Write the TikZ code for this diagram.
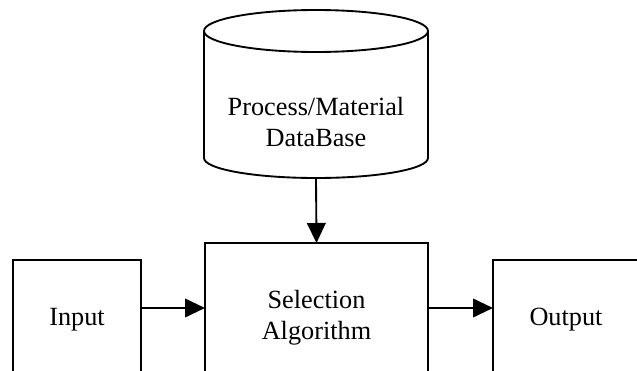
\documentclass[tikz,border=0pt]{standalone}
\usepackage{fontspec}
\setmainfont{Liberation Serif}
\usetikzlibrary{arrows.meta}
\begin{document}
\begin{tikzpicture}[x=0.75pt,y=-0.75pt,
  every node/.style={font=\fontsize{19.7pt}{23.5pt}\selectfont, align=center, inner sep=0pt, outer sep=0pt},
  box/.style={draw, line width=1.4pt, rectangle},
  conn/.style={line width=1.4pt, -{Triangle[length=15pt,width=14pt]}},
  shp/.style={line width=1.4pt}]
\useasboundingbox (0,0) rectangle (637,371);
\clip (0,0) rectangle (637,371);
% cylinder
\draw[shp] (204,31) -- (204,158) arc[start angle=180,end angle=0,x radius=112,y radius=20] -- (428,31);
\draw[shp] (316,31) ellipse[x radius=112,y radius=21];
\node[minimum width=168pt, minimum height=84pt] (db) at (316,122) {Process/Material\\DataBase};
% boxes
\node[box, minimum width=96pt, minimum height=90pt] (inp) at (77,320) {Input};
\node[box, minimum width=167.25pt, minimum height=112.5pt] (sel) at (316.5,318) {Selection\\Algorithm};
\node[box, minimum width=109.5pt, minimum height=90pt] (out) at (566,320) {Output};
% connectors
\draw[conn] (db.south) -- (sel.north);
\draw[conn] (inp.east |- 0,308) -- (sel.west |- 0,308);
\draw[conn] (sel.east |- 0,308) -- (out.west |- 0,308);
\end{tikzpicture}
\end{document}
